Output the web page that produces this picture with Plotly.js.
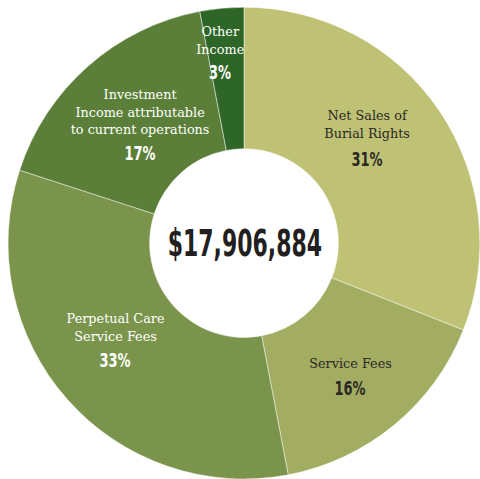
<!DOCTYPE html>
<html>
<head>
<meta charset="utf-8">
<script src="https://cdn.plot.ly/plotly-3.0.1.min.js"></script>
<style>html,body{margin:0;padding:0;background:#fff;}#chart{width:480px;height:479px;}</style>
</head>
<body>
<div id="chart"></div>
<script>
const categories = ["Net Sales of Burial Rights", "Service Fees", "Perpetual Care Service Fees", "Investment Income attributable to current operations", "Other Income"];
const labelLines = ["Net Sales of<br>Burial Rights", "Service Fees", "Perpetual Care<br>Service Fees", "Investment<br>Income attributable<br>to current operations", "Other<br>Income"];
const shares = [31, 16, 33, 17, 3];
const totalText = "$17,906,884";

const sliceColors = ["#bfc275", "#a3ad62", "#7a954b", "#5b7f39", "#2e6628"];
const textColors = ["#2a2825", "#2a2825", "#ffffff", "#ffffff", "#ffffff"];
// label block centres and percent centres (pixels from top-left)
const labelPos = [[367,124],[350,363],[115,327],[140,111],[220,40]];
const pctPos = [[367,159],[350,388],[115,360],[140,153],[220,72]];

const W = 480, H = 479;
const px = x => x / W;
const py = y => 1 - y / H;

const annotations = [];
const condensed = {};
categories.forEach((c, i) => {
  condensed[annotations.length] = 0.95;
  annotations.push({
    x: px(labelPos[i][0]), y: py(labelPos[i][1]), xref: 'paper', yref: 'paper',
    xanchor: 'center', yanchor: 'middle', showarrow: false, align: 'center',
    text: labelLines[i],
    font: {family: 'DejaVu Serif, serif', size: 13.5, color: textColors[i]}
  });
  condensed[annotations.length] = 0.74;
  annotations.push({
    x: px(pctPos[i][0]), y: py(pctPos[i][1]), xref: 'paper', yref: 'paper',
    xanchor: 'center', yanchor: 'middle', showarrow: false,
    text: shares[i] + '%',
    font: {family: 'DejaVu Sans Condensed, DejaVu Sans, sans-serif', size: 19.5, weight: 700, color: textColors[i]}
  });
});
condensed[annotations.length] = 0.66;
annotations.push({
  x: px(245), y: py(243), xref: 'paper', yref: 'paper',
  xanchor: 'center', yanchor: 'middle', showarrow: false,
  text: totalText,
  font: {family: 'DejaVu Sans Condensed, DejaVu Sans, sans-serif', size: 37, weight: 700, color: '#231f20'}
});

const trace = {
  type: 'pie',
  labels: categories,
  values: shares,
  hole: 0.4,
  sort: false,
  direction: 'clockwise',
  rotation: 0,
  textinfo: 'none',
  hoverinfo: 'label+percent',
  marker: {colors: sliceColors, line: {color: 'rgba(255,255,255,0.45)', width: 1}},
  domain: {x: [8 / W, 1], y: [0, 0.985]}
};

const layout = {
  width: W, height: H,
  margin: {l: 0, r: 0, t: 0, b: 0},
  paper_bgcolor: '#ffffff',
  showlegend: false,
  annotations: annotations
};

Plotly.newPlot('chart', [trace], layout, {displayModeBar: false, staticPlot: true}).then(gd => {
  gd.querySelectorAll('g.annotation').forEach(g => {
    const idx = +g.getAttribute('data-index');
    if (condensed[idx]) {
      const t = g.querySelector('text.annotation-text');
      if (t) {
        t.style.transformBox = 'fill-box';
        t.style.transformOrigin = 'center';
        t.style.transform = 'scaleX(' + condensed[idx] + ')';
      }
    }
  });
});
</script>
</body>
</html>
